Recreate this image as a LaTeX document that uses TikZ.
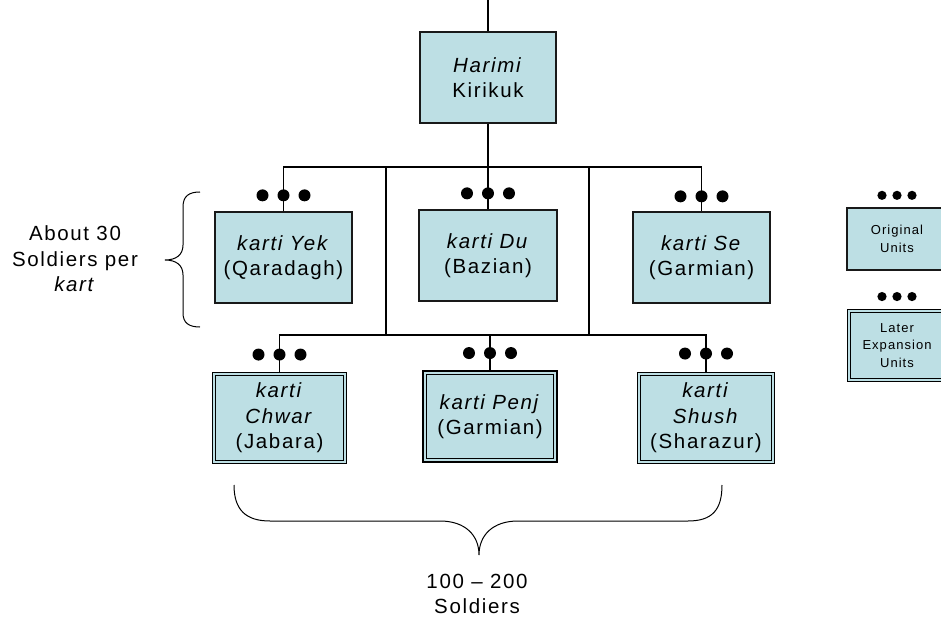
\documentclass[tikz,border=0pt]{standalone}
\usepackage{fontspec}
\setmainfont{Liberation Sans}[LetterSpace=8]
\definecolor{boxfill}{RGB}{189,223,228}
\begin{document}
\begin{tikzpicture}[x=1pt,y=-1pt,
  every node/.style={inner sep=0pt, align=center, font=\fontsize{20.5}{25.5}\selectfont},
  conn/.style={line width=1.3pt, draw=black},
  unitbox/.style={draw=black!90, line width=1.3pt, fill=boxfill, minimum width=137pt, minimum height=91pt},
  laterbox/.style={draw=black, line width=1.9pt, fill=boxfill, minimum width=134pt, minimum height=91pt},
  innerline/.style={draw=black, line width=1pt},
  legorig/.style={unitbox, minimum width=100pt, minimum height=62pt, font=\fontsize{13}{17.5}\selectfont},
  leglater/.style={laterbox, minimum width=99pt, minimum height=72pt, font=\fontsize{13}{17.5}\selectfont},
  tridots/.pic={\fill (-21,0) circle (6) (0,0) circle (6) (21,0) circle (6);},
  smalldots/.pic={\fill (-15,0) circle (4.6) (0,0) circle (4.6) (15,0) circle (4.6);}
]
\clip (0,0) rectangle (941,620);
\fill[white] (0,0) rectangle (941,620);

% boxes
\node[unitbox, minimum width=136pt] (harimi) at (488,77.5) {\textit{Harimi}\\Kirikuk};
\node[unitbox] (yek) at (283.5,257.5) {\textit{karti Yek}\\(Qaradagh)};
\node[unitbox, minimum width=138pt] (du) at (488,255.5) {\textit{karti Du}\\(Bazian)};
\node[unitbox] (se) at (701.5,257.5) {\textit{karti Se}\\(Garmian)};
\node[laterbox] (chwar) at (279.5,418) {\textit{karti}\\\textit{Chwar}\\(Jabara)};
\node[laterbox] (penj) at (490,416.5) {\textit{karti Penj}\\(Garmian)};
\node[laterbox, minimum width=137pt] (shush) at (706,418) {\textit{karti}\\\textit{Shush}\\(Sharazur)};

% legend
\node[legorig] (legA) at (897,239) {Original\\Units};
\node[leglater] (legB) at (897,345.5) {Later\\Expansion\\Units};

% inner lines of the double-framed boxes
\foreach \b in {chwar,penj,shush,legB}
  \draw[innerline] ([shift={(4.3pt,-4.3pt)}]\b.north west) rectangle ([shift={(-4.3pt,4.3pt)}]\b.south east);

% junction coordinates
\coordinate (topend) at (488,0);
\coordinate (j1) at (488,167);
\coordinate (ja) at (386,167);
\coordinate (jb) at (589,167);
\coordinate (ka) at (386,335);
\coordinate (kb) at (589,335);

% connectors
\draw[conn] (topend) -- (harimi.north);
\draw[conn] (harimi.south) -- (j1);
\draw[conn] (yek.north) -- (yek.north |- j1) -- (se.north |- j1) -- (se.north);
\draw[conn] (j1) -- (du.north);
\draw[conn] (ja) -- (ka);
\draw[conn] (jb) -- (kb);
\draw[conn] (chwar.north) -- (chwar.north |- ka) -- (shush.north |- ka) -- (shush.north);
\draw[conn] (penj.north |- ka) -- (penj.north);

% dots
\pic at ([yshift=16pt]yek.north) {tridots};
\pic at ([yshift=16pt]du.north) {tridots};
\pic at ([yshift=15pt]se.north) {tridots};
\pic at ([yshift=17pt]chwar.north) {tridots};
\pic at ([yshift=17pt]penj.north) {tridots};
\pic at ([yshift=18pt]shush.north) {tridots};
\pic at ([yshift=12pt]legA.north) {smalldots};
\pic at ([yshift=12pt]legB.north) {smalldots};

% braces
\draw[line width=1pt] (200,192) .. controls (189,192) and (183,196) .. (183,207) -- (183,245)
  .. controls (183,255) and (176,260) .. (165,260)
  .. controls (176,260) and (183,265) .. (183,275) -- (183,313)
  .. controls (183,323) and (189,327) .. (200,327);
\draw[line width=1pt] (234,485) .. controls (234,510) and (246,521) .. (270,521) -- (440,521)
  .. controls (465,521) and (479,535) .. (479,555)
  .. controls (479,535) and (493,521) .. (518,521) -- (688,521)
  .. controls (712,521) and (722,510) .. (722,485);

% labels
\node (lbl30) at (75,259) {About 30\\Soldiers per\\\textit{kart}};
\node (lbl200) at (477,594) {100 – 200\\Soldiers};
\end{tikzpicture}
\end{document}
